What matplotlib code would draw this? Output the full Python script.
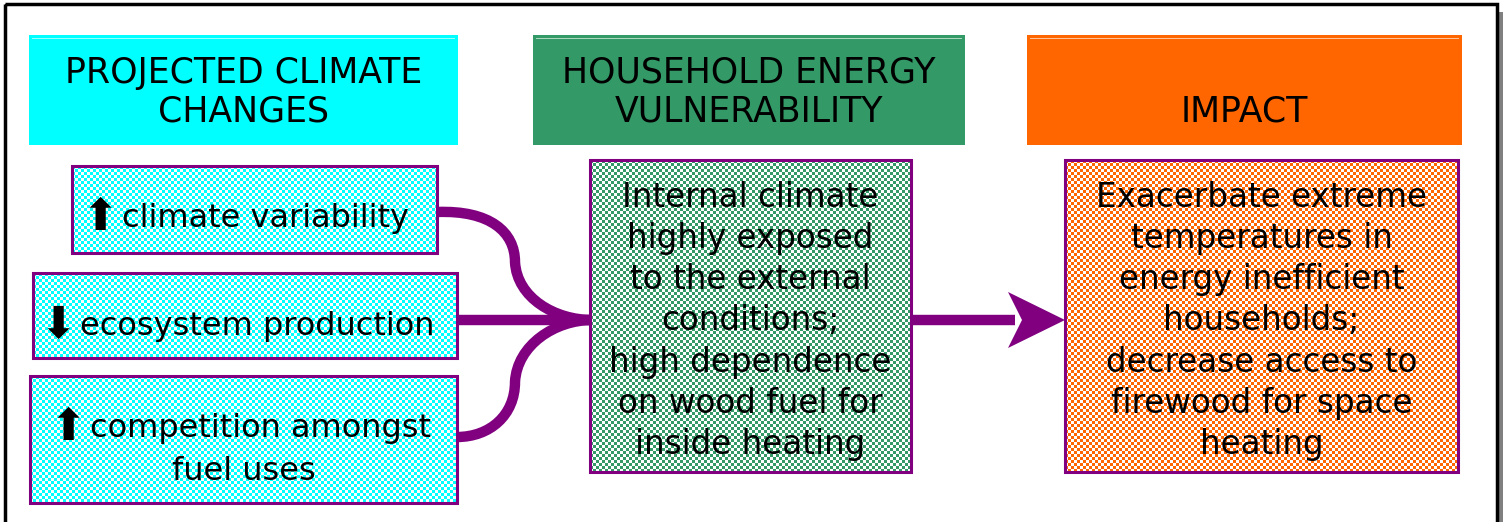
import numpy as np
import matplotlib.pyplot as plt
from matplotlib.patches import Rectangle, Polygon, PathPatch
from matplotlib.path import Path

# column headers and box texts
headers = ['PROJECTED CLIMATE\nCHANGES', 'HOUSEHOLD ENERGY\nVULNERABILITY', '\nIMPACT']
header_colors = ['#00ffff', '#339966', '#ff6600']
drivers = ['climate variability', 'ecosystem production', 'competition amongst\nfuel uses']
driver_signs = ['\u2b06', '\u2b07', '\u2b06']
vulnerability = ('Internal climate\nhighly exposed\nto the external\nconditions;\n'
                 'high dependence\non wood fuel for\ninside heating')
impact = ('Exacerbate extreme\ntemperatures in\nenergy inefficient\nhouseholds;\n'
          'decrease access to\nfirewood for space\nheating')

W, H = 1507, 522
PURPLE = '#800080'
fig = plt.figure(figsize=(W / 100, H / 100), dpi=100)
ax = fig.add_axes([0, 0, 1, 1])
ax.set_xlim(0, W)
ax.set_ylim(H, 0)
ax.axis('off')


def checker_box(x0, y0, w, h, color, cell=3):
    # checkered fill like the original pattern fill
    c = np.array(plt.matplotlib.colors.to_rgb(color))
    ny, nx = int(round(h / cell)), int(round(w / cell))
    ii, jj = np.indices((ny, nx))
    arr = np.ones((ny, nx, 3))
    arr[(ii + jj) % 2 == 0] = c
    ax.imshow(arr, extent=(x0, x0 + nx * cell, y0 + ny * cell, y0), interpolation='nearest',
              aspect='auto', zorder=1)
    ax.add_patch(Rectangle((x0, y0), w, h, fill=False, ec=PURPLE, lw=2.2, zorder=3))


# outer frame with shadow
ax.add_patch(Rectangle((1498, 12), 5, 520, fc='#808080', ec='none', zorder=0))
ax.add_patch(Rectangle((5, 4), 1492, 540, fill=False, ec='black', lw=2.5, zorder=5))

# headers
hx = [(29, 458), (533, 965), (1027, 1462)]
for (x0, x1), txt, col in zip(hx, headers, header_colors):
    ax.add_patch(Rectangle((x0, 35), x1 - x0, 110, fc=col, ec='none', zorder=1))
    ax.add_patch(Rectangle((x0 + 3, 38), x1 - x0 - 6, 1, fc='white', ec='none', alpha=0.6, zorder=1))
    ax.text((x0 + x1) / 2, 92, txt, ha='center', va='center', fontsize=25,
            linespacing=1.15, zorder=4)

# driver boxes
dboxes = [(72, 166, 365, 87), (33, 273, 424, 85), (30, 376, 427, 127)]
sign_x = [100, 58, 68]
first_y = [218, 326, 428]
for (x0, y0, w, h), sx, fy, sign, txt in zip(dboxes, sign_x, first_y, driver_signs, drivers):
    checker_box(x0, y0, w, h, '#00ffff')
    lines = txt.split('\n')
    ax.text(sx, fy - 1, sign, ha='center', va='center', fontsize=32, zorder=4)
    ax.text(sx + 22, fy + 1, lines[0], ha='left', va='center', fontsize=23, zorder=4)
    for k, ln in enumerate(lines[1:]):
        ax.text(x0 + w / 2, fy + 1 + 42 * (k + 1), ln, ha='center', va='center',
                fontsize=23, zorder=4)

# vulnerability and impact boxes
checker_box(590, 160, 321, 312, '#339966')
ax.text(750.5, 321, vulnerability, ha='center', va='center', fontsize=23.5,
        linespacing=1.31, zorder=4)
checker_box(1065, 160, 393, 312, '#ff6600')
ax.text(1261.5, 321, impact, ha='center', va='center', fontsize=23.5,
        linespacing=1.31, zorder=4)

# converging connectors
cy = 320
curves = [
    [(437, 212), (490, 210), (515, 232), (515, 262), (517, 298), (555, cy), (592, cy)],
    [(457, cy), (500, cy), (550, cy), (592, cy)],
    [(457, 437), (490, 437), (515, 415), (515, 382), (517, 345), (555, cy), (592, cy)],
]
for pts in curves:
    codes = [Path.MOVETO] + [Path.CURVE4] * (len(pts) - 1)
    ax.add_patch(PathPatch(Path(pts, codes), fill=False, ec=PURPLE, lw=7.5,
                           capstyle='butt', zorder=2))

# arrow to impact
ax.plot([911, 1015], [cy, cy], color=PURPLE, lw=7.5, solid_capstyle='butt', zorder=2)
ax.add_patch(Polygon([(1008, 292), (1065, cy), (1008, 348), (1022, cy)], closed=True,
                     fc=PURPLE, ec='none', zorder=2))

fig.savefig('out.png', dpi=100)
